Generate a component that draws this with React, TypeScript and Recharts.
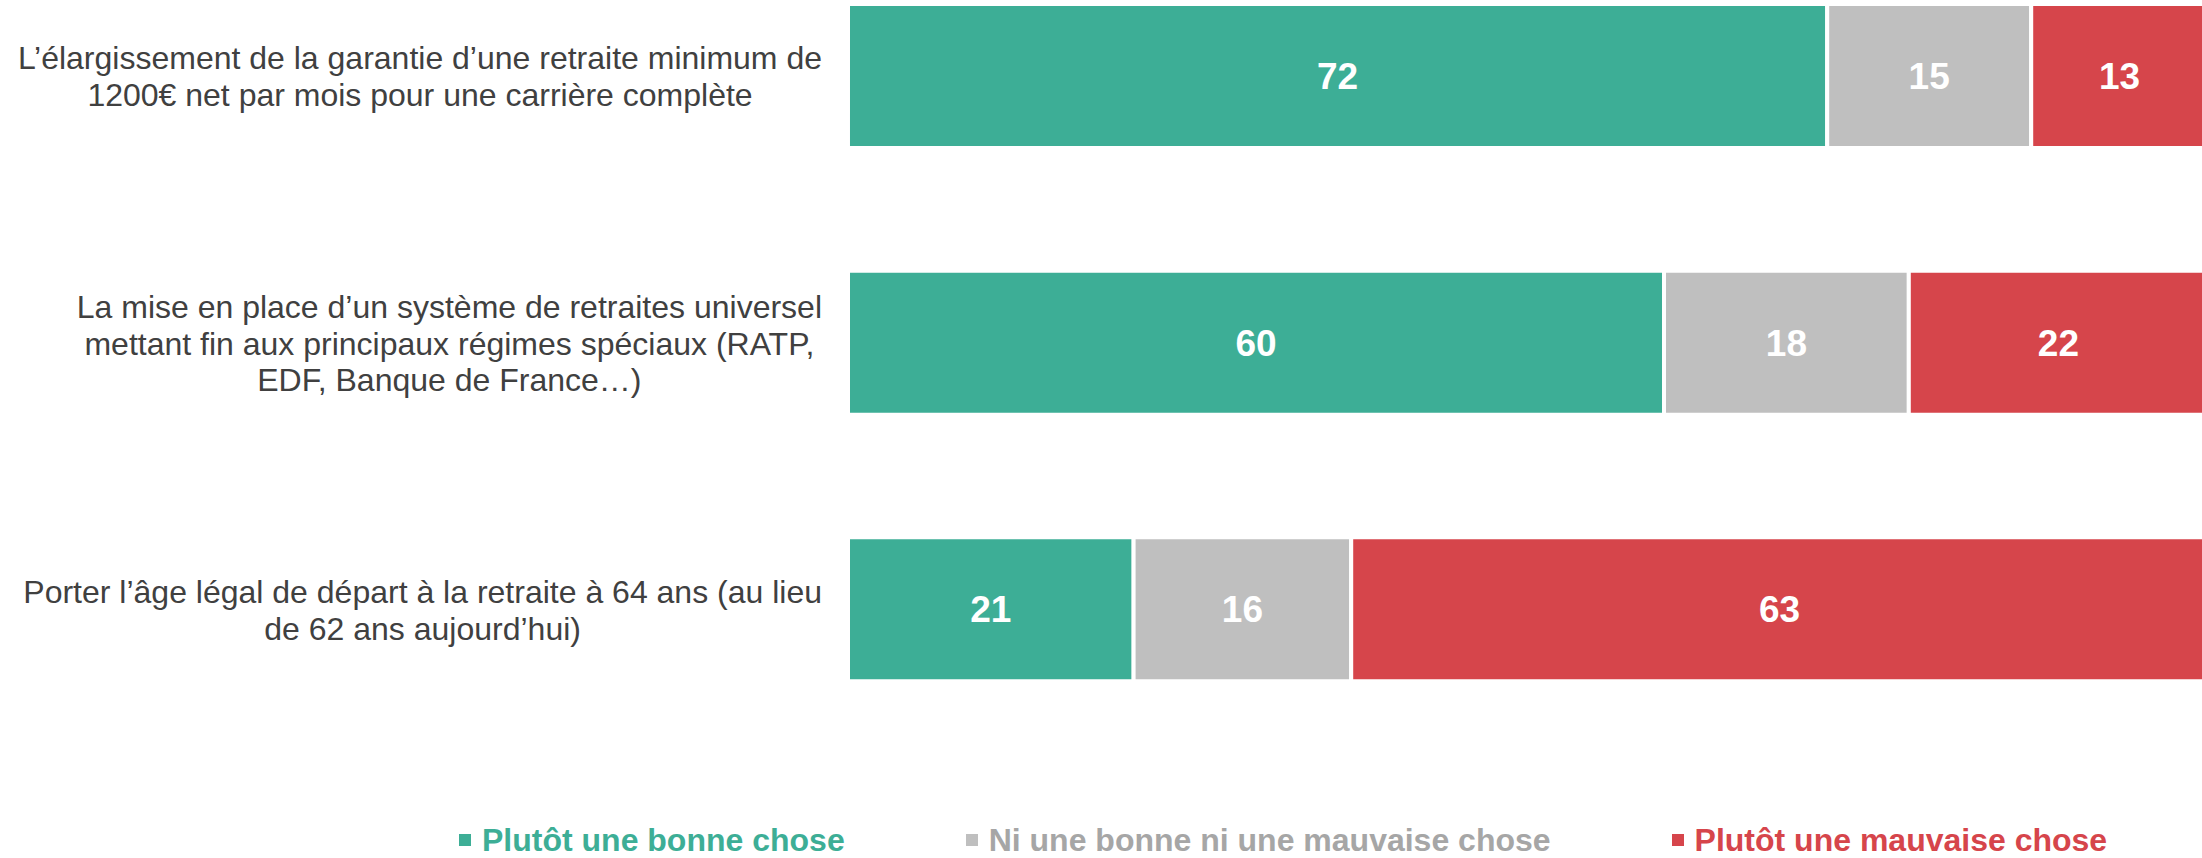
import React from 'react';
import { BarChart, Bar, XAxis, YAxis, Legend, LabelList } from 'recharts';

const questions = [
  ['L’élargissement de la garantie d’une retraite minimum de', '1200€ net par mois pour une carrière complète'],
  ['La mise en place d’un système de retraites universel', 'mettant fin aux principaux régimes spéciaux (RATP,', 'EDF, Banque de France…)'],
  ['Porter l’âge légal de départ à la retraite à 64 ans (au lieu', 'de 62 ans aujourd’hui)'],
];
const bonne = [72, 60, 21];
const neutre = [15, 18, 16];
const mauvaise = [13, 22, 63];

const seriesNames = ['Plutôt une bonne chose', 'Ni une bonne ni une mauvaise chose', 'Plutôt une mauvaise chose'];
const seriesColors = ['#3DAE96', '#BFBFBF', '#D6454B'];
const legendTextColors = ['#3DAE96', '#A6A6A6', '#D6454B'];

const data = questions.map((lines, i) => ({
  name: lines.join(' '),
  bonne: bonne[i],
  neutre: neutre[i],
  mauvaise: mauvaise[i],
}));

const FONT = "'Liberation Sans', Arial, sans-serif";

let ctx: CanvasRenderingContext2D | null = null;
const measure = (s: string) => {
  if (!ctx) ctx = document.createElement('canvas').getContext('2d');
  if (!ctx) return s.length * 15;
  ctx.font = `32px ${FONT}`;
  return ctx.measureText(s).width;
};

// question labels: lines centred on each other, widest line ends at x=822
const QuestionTick = (props: any) => {
  const { y, index } = props;
  const lines = questions[index] || [];
  const maxW = Math.max(...lines.map(measure));
  const cx = 822 - maxW / 2;
  const lh = 36.8;
  return (
    <text x={cx} y={y} textAnchor="middle" fill="#404040" fontSize={32} fontFamily={FONT}>
      {lines.map((l, i) => (
        <tspan key={i} x={cx} y={y + (i - (lines.length - 1) / 2) * lh} dy="0.36em">
          {l}
        </tspan>
      ))}
    </text>
  );
};

const LegendContent = () => (
  <div style={{ display: 'flex', whiteSpace: 'nowrap', fontFamily: FONT, fontWeight: 'bold', fontSize: 32, lineHeight: '28px' }}>
    {seriesNames.map((n, i) => (
      <div key={n} style={{ display: 'flex', alignItems: 'center', marginRight: i < 2 ? 121 : 0 }}>
        <span style={{ width: 12, height: 12, background: seriesColors[i], marginRight: 11, display: 'inline-block' }} />
        <span style={{ color: legendTextColors[i] }}>{n}</span>
      </div>
    ))}
  </div>
);

export default function App() {
  return (
    <div style={{ position: 'absolute', left: 0, top: 0, width: 2202, height: 858, overflow: 'hidden', background: '#fff' }}>
      <BarChart
        width={2208}
        height={858}
        data={data}
        layout="vertical"
        margin={{ top: -57, right: 0, bottom: 87, left: 0 }}
        barSize={144}
      >
        <XAxis type="number" domain={[0, 100]} hide />
        <YAxis
          type="category"
          dataKey="name"
          width={848}
          axisLine={false}
          tickLine={false}
          interval={0}
          tick={<QuestionTick />}
        />
        <Legend
          verticalAlign="bottom"
          content={<LegendContent />}
          wrapperStyle={{ top: 826, left: 459, bottom: 'auto', width: 'auto' }}
        />
        <Bar dataKey="bonne" stackId="a" fill={seriesColors[0]} stroke="#fff" strokeWidth={4} isAnimationActive={false}>
          <LabelList dataKey="bonne" position="center" fill="#fff" fontSize={37} fontWeight="bold" fontFamily={FONT} />
        </Bar>
        <Bar dataKey="neutre" stackId="a" fill={seriesColors[1]} stroke="#fff" strokeWidth={4} isAnimationActive={false}>
          <LabelList dataKey="neutre" position="center" fill="#fff" fontSize={37} fontWeight="bold" fontFamily={FONT} />
        </Bar>
        <Bar dataKey="mauvaise" stackId="a" fill={seriesColors[2]} stroke="#fff" strokeWidth={4} isAnimationActive={false}>
          <LabelList dataKey="mauvaise" position="center" fill="#fff" fontSize={37} fontWeight="bold" fontFamily={FONT} />
        </Bar>
      </BarChart>
    </div>
  );
}
